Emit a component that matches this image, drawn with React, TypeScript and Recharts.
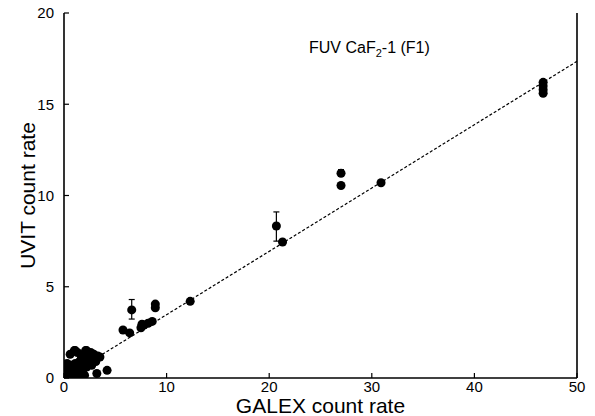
import { ComposedChart, Scatter, XAxis, YAxis, ErrorBar } from 'recharts';

// axis ticks
const xTicks = [0, 10, 20, 30, 40, 50];
const yTicks = [0, 5, 10, 15, 20];

// plain points (GALEX vs UVIT count rate)
const galexRates = [
  0.1, 0.2, 0.3, 0.4, 0.5, 0.6, 0.7, 0.8, 0.9, 1.0, 1.1, 1.2, 1.3, 1.4, 1.5,
  1.6, 1.7, 1.8, 1.9, 2.0, 2.1, 2.2, 2.3, 2.4, 2.5, 2.6, 2.7, 2.8, 2.9, 3.0,
  3.1, 3.2, 3.3, 3.5, 0.3, 0.6, 1.0, 0.15, 0.5, 1.2, 2.0, 1.1, 2.2, 4.2,
  5.75, 6.4, 7.5, 7.6, 7.8, 8.2, 8.6, 8.9, 8.9, 12.3, 21.3, 27.0, 30.9,
  46.7, 46.7, 46.7, 46.7,
];
const uvitRates = [
  0.1, 0.3, 0.05, 0.5, 0.2, 0.7, 0.4, 0.1, 0.6, 0.3, 0.8, 0.5, 1.4, 0.2, 0.9,
  0.6, 1.1, 0.4, 1.3, 0.8, 1.5, 0.6, 1.0, 1.2, 0.9, 1.4, 0.7, 1.1, 1.3, 1.0,
  0.9, 0.25, 1.2, 1.15, 0.8, 1.3, 1.5, 0.5, 0.0, 0.05, 0.15, 1.5, 1.5, 0.42,
  2.63, 2.47, 2.75, 2.95, 2.9, 3.0, 3.1, 3.85, 4.05, 4.2, 7.45, 10.55, 10.7,
  15.6, 15.8, 16.0, 16.2,
];

// points with error bars
const errGalex = [6.6, 20.7, 27.0];
const errUvit = [3.73, 8.33, 11.22];
const errLow = [0.5, 0.83, 0.15];
const errHigh = [0.57, 0.77, 0.2];

// fitted relation
const fitGalex = [0, 50];
const fitUvit = [0, 17.35];

const plainPoints = galexRates.map((x, i) => ({ x, y: uvitRates[i] }));
const errPoints = errGalex.map((x, i) => ({
  x,
  y: errUvit[i],
  err: [errLow[i], errHigh[i]],
}));
const fitPoints = fitGalex.map((x, i) => ({ x, y: fitUvit[i] }));

const font = '"Liberation Sans", Arial, Helvetica, sans-serif';
const black = '#000';

const noTick = () => <g />;

export default function App() {
  return (
    <div style={{ position: 'absolute', left: 0, top: 0, width: 595, height: 416, background: '#fff', fontFamily: font }}>
      <ComposedChart
        width={595}
        height={416}
        margin={{ top: 13, right: 0, bottom: 0, left: 0 }}
      >
        <XAxis
          type="number"
          dataKey="x"
          domain={[0, 50]}
          ticks={xTicks}
          allowDataOverflow
          height={38}
          tickSize={-5}
          tickMargin={8}
          axisLine={{ stroke: black, strokeWidth: 1.6 }}
          tickLine={{ stroke: black, strokeWidth: 1.2 }}
          tick={{ fill: black, fontSize: 15, fontFamily: font }}
          label={{
            value: 'GALEX count rate',
            position: 'insideBottom',
            offset: 3,
            fill: black,
            fontSize: 21,
            fontFamily: font,
          }}
        />
        <XAxis
          xAxisId="top"
          orientation="top"
          type="number"
          dataKey="x"
          domain={[0, 50]}
          ticks={xTicks}
          height={0}
          tickSize={-5}
          axisLine={{ stroke: black, strokeWidth: 1.6 }}
          tickLine={{ stroke: black, strokeWidth: 1.2 }}
          tick={noTick}
        />
        <YAxis
          type="number"
          dataKey="y"
          domain={[0, 20]}
          ticks={yTicks}
          allowDataOverflow
          width={64}
          tickSize={-5}
          tickMargin={15}
          axisLine={{ stroke: black, strokeWidth: 1.6 }}
          tickLine={{ stroke: black, strokeWidth: 1.2 }}
          tick={{ fill: black, fontSize: 15, fontFamily: font }}
          label={{
            value: 'UVIT count rate',
            angle: -90,
            position: 'insideLeft',
            offset: 28,
            fill: black,
            fontSize: 21,
            fontFamily: font,
            style: { textAnchor: 'middle' },
          }}
        />
        <YAxis
          yAxisId="right"
          orientation="right"
          type="number"
          domain={[0, 20]}
          ticks={yTicks}
          width={18}
          tickSize={-5}
          axisLine={{ stroke: black, strokeWidth: 1.6 }}
          tickLine={{ stroke: black, strokeWidth: 1.2 }}
          tick={noTick}
        />
        <Scatter
          data={fitPoints}
          line={{ stroke: black, strokeWidth: 1.2, strokeDasharray: '3 2' }}
          shape={noTick}
          isAnimationActive={false}
        />
        <Scatter data={plainPoints} fill={black} isAnimationActive={false} />
        <Scatter data={errPoints} fill={black} isAnimationActive={false}>
          <ErrorBar dataKey="err" direction="y" width={3} stroke={black} strokeWidth={1.2} />
        </Scatter>
      </ComposedChart>
      <svg
        width={595}
        height={416}
        style={{ position: 'absolute', left: 0, top: 0, pointerEvents: 'none' }}
      >
        <text x={309} y={53} fontSize={16} fontFamily={font} fill={black}>
          FUV CaF
          <tspan fontSize={11} dy={4}>2</tspan>
          <tspan dy={-4}>-1 (F1)</tspan>
        </text>
      </svg>
    </div>
  );
}
